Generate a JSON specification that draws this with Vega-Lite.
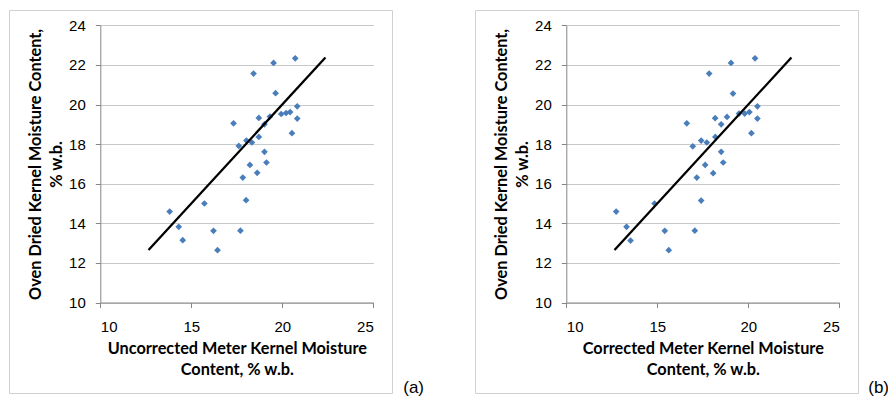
{
  "$schema": "https://vega.github.io/schema/vega-lite/v6.json",
  "padding": {"left": 8, "top": 9, "right": 0, "bottom": 0},
  "spacing": 83,
  "bounds": "flush",
  "background": "white",
  "config": {
    "view": {"stroke": "#d0d0d0", "strokeWidth": 1},
    "axis": {
      "labelFont": "Liberation Sans",
      "labelFontSize": 15,
      "labelColor": "#000000",
      "titleFont": "Lato",
      "titleFontSize": 16.3,
      "titleFontWeight": "bold",
      "titleColor": "#000000",
      "titleLineHeight": 21,
      "domainColor": "#868686",
      "tickColor": "#868686",
      "tickSize": 5,
      "labelPadding": 10
    }
  },
  "datasets": {
    "a": [
      {"x": 13.81, "y": 14.59}, {"x": 14.31, "y": 13.82}, {"x": 14.53, "y": 13.15}, {"x": 15.72, "y": 15.0},
      {"x": 16.22, "y": 13.62}, {"x": 16.44, "y": 12.64}, {"x": 17.32, "y": 19.05}, {"x": 17.61, "y": 17.91},
      {"x": 17.70, "y": 13.63}, {"x": 17.83, "y": 16.31}, {"x": 18.01, "y": 15.17}, {"x": 18.03, "y": 18.18},
      {"x": 18.22, "y": 16.95}, {"x": 18.33, "y": 18.08}, {"x": 18.42, "y": 21.56}, {"x": 18.62, "y": 16.55},
      {"x": 18.71, "y": 19.32}, {"x": 18.71, "y": 18.36}, {"x": 19.02, "y": 17.61}, {"x": 19.02, "y": 19.0},
      {"x": 19.13, "y": 17.07}, {"x": 19.32, "y": 19.39}, {"x": 19.52, "y": 22.10}, {"x": 19.63, "y": 20.57},
      {"x": 19.94, "y": 19.52}, {"x": 20.21, "y": 19.57}, {"x": 20.43, "y": 19.62}, {"x": 20.53, "y": 18.55},
      {"x": 20.71, "y": 22.33}, {"x": 20.82, "y": 19.91}, {"x": 20.82, "y": 19.29}
    ],
    "b": [
      {"x": 12.74, "y": 14.59}, {"x": 13.31, "y": 13.82}, {"x": 13.53, "y": 13.13}, {"x": 14.85, "y": 15.0},
      {"x": 15.41, "y": 13.62}, {"x": 15.63, "y": 12.64}, {"x": 16.62, "y": 19.05}, {"x": 16.95, "y": 17.89},
      {"x": 17.06, "y": 13.63}, {"x": 17.17, "y": 16.31}, {"x": 17.41, "y": 15.15}, {"x": 17.41, "y": 18.18},
      {"x": 17.63, "y": 16.95}, {"x": 17.72, "y": 18.08}, {"x": 17.85, "y": 21.56}, {"x": 18.07, "y": 16.53},
      {"x": 18.18, "y": 19.31}, {"x": 18.19, "y": 18.36}, {"x": 18.51, "y": 17.61}, {"x": 18.51, "y": 19.0},
      {"x": 18.62, "y": 17.07}, {"x": 18.83, "y": 19.37}, {"x": 19.05, "y": 22.10}, {"x": 19.16, "y": 20.55},
      {"x": 19.49, "y": 19.54}, {"x": 19.80, "y": 19.54}, {"x": 20.06, "y": 19.62}, {"x": 20.17, "y": 18.55},
      {"x": 20.37, "y": 22.33}, {"x": 20.50, "y": 19.91}, {"x": 20.50, "y": 19.29}
    ],
    "line": [{"x": 12.65, "y": 12.65}, {"x": 22.37, "y": 22.37}]
  },
  "hconcat": [
    {
      "width": 383,
      "height": 383,
      "title": {"text": "(a)", "orient": "bottom", "anchor": "end", "frame": "group", "offset": 0, "dx": 32, "dy": -13, "font": "Liberation Sans", "fontSize": 17, "fontWeight": "normal", "color": "#000000"},
      "layer": [
        {
          "data": {"name": "a"},
          "mark": {"type": "point", "shape": "diamond", "filled": true, "size": 45, "color": "#4a7ebb", "opacity": 1},
          "encoding": {
            "x": {"field": "x", "type": "quantitative",
              "scale": {"domain": [10, 25], "range": [91.3, 364.3], "nice": false, "zero": false},
              "axis": {"title": ["Uncorrected Meter Kernel Moisture", "Content, % w.b."], "values": [10, 15, 20, 25], "grid": false, "offset": -90.5, "labelPadding": 12, "titlePadding": 6}},
            "y": {"field": "y", "type": "quantitative",
              "scale": {"domain": [10, 24], "range": [292.5, 15.3], "nice": false, "zero": false},
              "axis": {"title": ["Oven Dried Kernel Moisture Content,", "% w.b."], "values": [10, 12, 14, 16, 18, 20, 22, 24], "grid": true, "gridColor": "#c8c8c8", "offset": -91.3, "titlePadding": 4}}
          }
        },
        {
          "data": {"name": "line"},
          "mark": {"type": "line", "color": "#000000", "strokeWidth": 2.3},
          "encoding": {
            "x": {"field": "x", "type": "quantitative"},
            "y": {"field": "y", "type": "quantitative"}
          }
        }
      ]
    },
    {
      "width": 383,
      "height": 383,
      "title": {"text": "(b)", "orient": "bottom", "anchor": "end", "frame": "group", "offset": 0, "dx": 31, "dy": -13, "font": "Liberation Sans", "fontSize": 17, "fontWeight": "normal", "color": "#000000"},
      "layer": [
        {
          "data": {"name": "b"},
          "mark": {"type": "point", "shape": "diamond", "filled": true, "size": 45, "color": "#4a7ebb", "opacity": 1},
          "encoding": {
            "x": {"field": "x", "type": "quantitative",
              "scale": {"domain": [10, 25], "range": [91.3, 364.3], "nice": false, "zero": false},
              "axis": {"title": ["Corrected Meter Kernel Moisture", "Content, % w.b."], "values": [10, 15, 20, 25], "grid": false, "offset": -90.5, "labelPadding": 12, "titlePadding": 6}},
            "y": {"field": "y", "type": "quantitative",
              "scale": {"domain": [10, 24], "range": [292.5, 15.3], "nice": false, "zero": false},
              "axis": {"title": ["Oven Dried Kernel Moisture Content,", "% w.b."], "values": [10, 12, 14, 16, 18, 20, 22, 24], "grid": true, "gridColor": "#c8c8c8", "offset": -91.3, "titlePadding": 4}}
          }
        },
        {
          "data": {"name": "line"},
          "mark": {"type": "line", "color": "#000000", "strokeWidth": 2.3},
          "encoding": {
            "x": {"field": "x", "type": "quantitative"},
            "y": {"field": "y", "type": "quantitative"}
          }
        }
      ]
    }
  ]
}
